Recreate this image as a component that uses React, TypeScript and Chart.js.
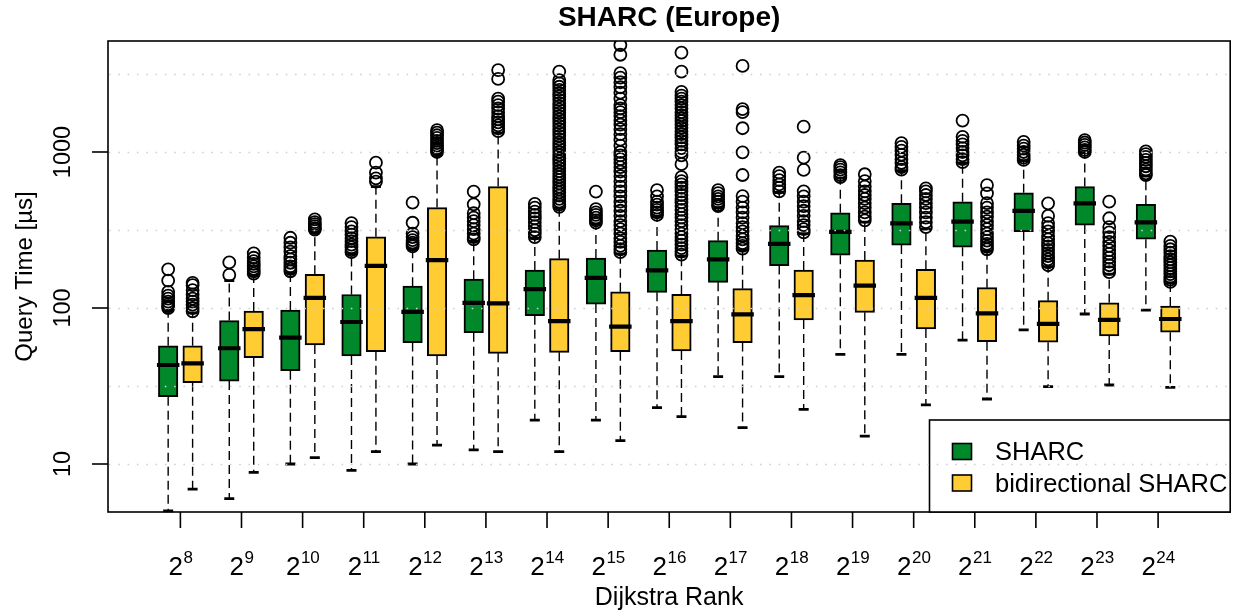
import React, { useEffect, useRef } from 'react';
import { Chart, registerables } from 'chart.js';

Chart.register(...registerables);

// ---------------- data ----------------
const exponents = ['8', '9', '10', '11', '12', '13', '14', '15', '16', '17', '18', '19', '20', '21', '22', '23', '24'];
const seriesNames = ['SHARC', 'bidirectional SHARC'];
const yTickValues = [10, 100, 1000];
const gridValues = [10, 31.62, 100, 316.2, 1000, 3162];

const sharcLow = [5.0, 6.0, 10.0, 9.1, 10.0, 12.3, 19.1, 19.1, 23, 36.3, 36.3, 50.5, 50.5, 62.3, 72.3, 91.5, 97];
const sharcQ1 = [27.0, 34, 39.6, 49.3, 60, 69.5, 89.3, 106, 126, 146, 187, 218, 253, 245, 308, 340, 276];
const sharcMed = [43.1, 55.2, 64.5, 81.3, 94.3, 108, 132, 156, 174, 205, 258, 308, 349, 358, 419, 469, 354];
const sharcQ3 = [57.3, 83, 97, 122, 138, 153, 175, 209, 235, 270, 337, 408, 469, 480, 548, 600, 462];
const sharcHigh = [95, 150, 168, 222, 238, 268, 280, 345, 385, 440, 550, 680, 760, 850, 880, 990, 700];
const sharcOutliers: number[][] = [
  [177, 150, 127, 120, 115, 110, 106, 103, 100],
  [196, 163],
  [282, 262, 245, 230, 215, 205, 195, 185, 178, 172],
  [350, 330, 310, 295, 280, 268, 255, 245, 235, 228],
  [473, 352, 300, 285, 272, 262, 255, 248],
  [557, 462, 405, 380, 360, 340, 320, 300, 285, 275],
  [465, 440, 415, 395, 375, 355, 335, 315, 300, 285],
  [557, 430, 410, 395, 380, 365, 352],
  [570, 520, 480, 460, 440, 425, 410, 395],
  [570, 545, 520, 500, 480, 460, 450],
  [737, 700, 660, 620, 590, 560],
  [825, 800, 770, 740, 710, 690],
  [1140, 1080, 1020, 960, 900, 850, 800, 770],
  [1590, 1250, 1180, 1120, 1060, 1000, 950, 900, 860],
  [1160, 1100, 1050, 1000, 960, 920, 890],
  [1190, 1150, 1110, 1070, 1030, 1000],
  [1010, 970, 930, 890, 850, 810, 770, 730, 712],
];

const biLow = [6.9, 8.85, 11.0, 12.0, 13.2, 12.0, 12.0, 14.1, 20.1, 17.1, 22.4, 15.1, 23.9, 26.1, 31.3, 32.1, 31];
const biQ1 = [33.2, 48, 57.9, 52.5, 49.3, 51.2, 52, 52.5, 53, 60, 83.8, 93.8, 73.3, 60.8, 60.3, 66.2, 69.9];
const biMed = [44.2, 73.3, 116, 186, 203, 107, 82.5, 75.9, 82.5, 91.1, 121, 139, 116, 92.5, 79, 83.8, 85];
const biQ3 = [57.3, 95.7, 164.5, 286, 440, 600, 207, 127, 122.4, 133, 175, 203, 177, 135, 111.4, 108, 103];
const biHigh = [93, 162, 305, 600, 950, 1320, 435, 222, 215, 235, 300, 355, 320, 232, 184, 165, 145];
const biOutliers: number[][] = [
  [145, 140, 130, 122, 115, 110, 105, 100, 95],
  [224, 210, 200, 192, 185, 178, 172, 166],
  [370, 355, 345, 335, 325, 318],
  [854, 737, 678, 645],
  [1380, 1330, 1280, 1230, 1180, 1140, 1100, 1060, 1030, 1000],
  [3350, 2940, 2200, 2100, 2000, 1900, 1800, 1700, 1620, 1550, 1480, 1420, 1360],
  [3270, 2890, 2750, 2620, 2500, 2380, 2270, 2160, 2060, 1960, 1870, 1780, 1700, 1620, 1540, 1470, 1400, 1330, 1270, 1210, 1150, 1100, 1050, 1000, 955, 910, 870, 830, 790, 755, 720, 690, 660, 630, 600, 575, 550, 525, 500, 480, 460, 445],
  [4850, 4200, 3200, 3000, 2800, 2600, 2400, 2200, 2000, 1900, 1800, 1700, 1600, 1500, 1400, 1300, 1200, 1100, 1000, 950, 900, 850, 800, 750, 700, 650, 600, 560, 520, 480, 450, 420, 390, 360, 340, 320, 300, 280, 265, 250, 238, 228],
  [4330, 3270, 2430, 2300, 2200, 2100, 2000, 1900, 1800, 1720, 1650, 1580, 1500, 1430, 1360, 1300, 1240, 1180, 1120, 1060, 1000, 950, 835, 690, 650, 620, 590, 560, 530, 500, 475, 450, 425, 400, 380, 360, 340, 320, 300, 285, 270, 255, 242, 230, 220],
  [3560, 1880, 1800, 1420, 995, 712, 522, 480, 440, 410, 380, 350, 330, 310, 290, 275, 260, 250, 240],
  [1453, 920, 767, 560, 520, 480, 450, 420, 390, 360, 340, 320, 305],
  [720, 650, 600, 560, 530, 500, 470, 440, 410, 385, 365],
  [585, 560, 530, 500, 470, 440, 410, 380, 355, 330],
  [614, 543, 470, 440, 410, 385, 360, 340, 320, 300, 285, 270, 258, 247, 238],
  [469, 389, 350, 330, 310, 290, 275, 260, 248, 236, 225, 215, 205, 196, 188],
  [480, 376, 330, 305, 285, 265, 250, 235, 222, 210, 198, 188, 178, 170],
  [266, 250, 238, 226, 215, 205, 196, 188, 180, 172, 165, 158, 152, 147],
];

// ---------------- styles ----------------
const GREEN = '#00882B';
const YELLOW = '#FFCC33';
const FONT = '"Liberation Sans", Arial, Helvetica, sans-serif';
const OFFSET = 0.2;
const BOX_W = 19.5;

const boxData = (q1: number[], q3: number[], off: number) =>
  exponents.map((_, i) => ({ x: i + off, y: [q1[i], q3[i]] }));

const outlierData = (list: number[][], off: number) => {
  const pts: { x: number; y: number }[] = [];
  list.forEach((arr, i) => arr.forEach((v) => pts.push({ x: i + off, y: v })));
  return pts;
};

const series = [
  { low: sharcLow, q1: sharcQ1, med: sharcMed, q3: sharcQ3, high: sharcHigh, off: -OFFSET },
  { low: biLow, q1: biQ1, med: biMed, q3: biQ3, high: biHigh, off: OFFSET },
];

const rPlot = {
  id: 'rPlot',
  beforeDatasetsDraw(chart: any) {
    const { ctx } = chart;
    const xs = chart.scales.x;
    const ys = chart.scales.y;
    ctx.save();
    ctx.strokeStyle = '#000';
    for (const s of series) {
      exponents.forEach((_, i) => {
        const cx = xs.getPixelForValue(i + s.off);
        ctx.setLineDash([9, 5]);
        ctx.lineWidth = 1.4;
        ctx.beginPath();
        ctx.moveTo(cx, ys.getPixelForValue(s.q1[i]));
        ctx.lineTo(cx, ys.getPixelForValue(s.low[i]));
        ctx.moveTo(cx, ys.getPixelForValue(s.q3[i]));
        ctx.lineTo(cx, ys.getPixelForValue(s.high[i]));
        ctx.stroke();
        ctx.setLineDash([]);
        ctx.lineWidth = 2.8;
        ctx.beginPath();
        for (const v of [s.low[i], s.high[i]]) {
          const py = ys.getPixelForValue(v);
          ctx.moveTo(cx - 5, py);
          ctx.lineTo(cx + 5, py);
        }
        ctx.stroke();
      });
    }
    ctx.restore();
  },
  afterDatasetsDraw(chart: any) {
    const { ctx, chartArea } = chart;
    const { left, right, top, bottom } = chartArea;
    const xs = chart.scales.x;
    const ys = chart.scales.y;
    ctx.save();
    // medians
    ctx.strokeStyle = '#000';
    ctx.lineWidth = 4.2;
    ctx.beginPath();
    for (const s of series) {
      exponents.forEach((_, i) => {
        const cx = xs.getPixelForValue(i + s.off);
        const py = ys.getPixelForValue(s.med[i]);
        ctx.moveTo(cx - BOX_W / 2 - 1.5, py);
        ctx.lineTo(cx + BOX_W / 2 + 1.5, py);
      });
    }
    ctx.stroke();

    // plot frame
    ctx.lineWidth = 1.6;
    ctx.strokeRect(left, top, right - left, bottom - top);

    // y axis ticks + labels
    ctx.fillStyle = '#000';
    ctx.font = `23.5px ${FONT}`;
    ctx.textAlign = 'center';
    ctx.textBaseline = 'alphabetic';
    for (const v of yTickValues) {
      const py = ys.getPixelForValue(v);
      ctx.beginPath();
      ctx.moveTo(left - 16, py);
      ctx.lineTo(left, py);
      ctx.stroke();
      ctx.save();
      ctx.translate(left - 38, py);
      ctx.rotate(-Math.PI / 2);
      ctx.fillText(String(v), 0, 0);
      ctx.restore();
    }

    // x axis ticks + labels
    exponents.forEach((e, i) => {
      const px = xs.getPixelForValue(i);
      ctx.beginPath();
      ctx.moveTo(px, bottom);
      ctx.lineTo(px, bottom + 16);
      ctx.stroke();
      ctx.font = `26px ${FONT}`;
      const w1 = ctx.measureText('2').width;
      ctx.font = `17px ${FONT}`;
      const w2 = ctx.measureText(e).width;
      const x0 = px - (w1 + w2) / 2;
      ctx.textAlign = 'left';
      ctx.font = `26px ${FONT}`;
      ctx.fillText('2', x0, 575);
      ctx.font = `17px ${FONT}`;
      ctx.fillText(e, x0 + w1 + 0.5, 563);
    });

    // axis titles
    ctx.textAlign = 'center';
    ctx.font = `25px ${FONT}`;
    ctx.fillText('Dijkstra Rank', (left + right) / 2, 605);
    ctx.save();
    ctx.translate(32, (top + bottom) / 2);
    ctx.rotate(-Math.PI / 2);
    ctx.font = `24px ${FONT}`;
    ctx.fillText('Query Time [µs]', 0, 0);
    ctx.restore();

    // main title
    ctx.font = `bold 28px ${FONT}`;
    ctx.fillText('SHARC (Europe)', (left + right) / 2, 26);

    // legend
    const lx = 929.5;
    const ly = 420;
    ctx.fillStyle = '#fff';
    ctx.fillRect(lx, ly, right - lx, bottom - ly);
    ctx.lineWidth = 1.6;
    ctx.strokeStyle = '#000';
    ctx.strokeRect(lx, ly, right - lx, bottom - ly);
    const sw = [GREEN, YELLOW];
    const rows = [443.5, 475];
    seriesNames.forEach((name, k) => {
      ctx.fillStyle = sw[k];
      ctx.fillRect(952.5, rows[k], 19, 16);
      ctx.strokeRect(952.5, rows[k], 19, 16);
      ctx.fillStyle = '#000';
      ctx.font = `25.5px ${FONT}`;
      ctx.textAlign = 'left';
      ctx.fillText(name, 995, rows[k] + 16.8);
    });

    // dotted grid (drawn on top, as in R's grid())
    ctx.strokeStyle = '#CFCFCF';
    ctx.lineWidth = 1.6;
    ctx.setLineDash([1.6, 7.7]);
    ctx.beginPath();
    for (const v of gridValues) {
      const py = Math.round(ys.getPixelForValue(v)) + 0.5;
      ctx.moveTo(left + 1, py);
      ctx.lineTo(right - 1, py);
    }
    ctx.stroke();
    ctx.restore();
  },
};

export default function App() {
  const ref = useRef<HTMLCanvasElement | null>(null);
  useEffect(() => {
    if (!ref.current) return;
    const outlierStyle = {
      pointRadius: 6,
      pointHoverRadius: 6,
      pointBorderWidth: 1.8,
      pointBackgroundColor: 'rgba(0,0,0,0)',
      pointBorderColor: '#000',
      showLine: false,
    };
    const chart = new Chart(ref.current, {
      type: 'bar',
      data: {
        datasets: [
          {
            type: 'bar',
            label: seriesNames[0],
            data: boxData(sharcQ1, sharcQ3, -OFFSET) as any,
            backgroundColor: GREEN,
            borderColor: '#000',
            borderWidth: 2,
            borderSkipped: false,
            barThickness: BOX_W,
            grouped: false,
          } as any,
          {
            type: 'bar',
            label: seriesNames[1],
            data: boxData(biQ1, biQ3, OFFSET) as any,
            backgroundColor: YELLOW,
            borderColor: '#000',
            borderWidth: 2,
            borderSkipped: false,
            barThickness: BOX_W,
            grouped: false,
          } as any,
          {
            type: 'scatter',
            label: 'outliers SHARC',
            data: outlierData(sharcOutliers, -OFFSET),
            ...outlierStyle,
          } as any,
          {
            type: 'scatter',
            label: 'outliers bidirectional SHARC',
            data: outlierData(biOutliers, OFFSET),
            ...outlierStyle,
          } as any,
        ],
      },
      options: {
        animation: false,
        responsive: false,
        events: [],
        layout: { padding: { left: 108, top: 41, right: 3, bottom: 103 } },
        scales: {
          x: { type: 'linear', min: -1.1846, max: 17.18, display: false, offset: false },
          y: { type: 'logarithmic', min: 4.924, max: 5146, display: false },
        },
        plugins: { legend: { display: false }, tooltip: { enabled: false }, title: { display: false } },
      },
      plugins: [rPlot],
    } as any);
    return () => chart.destroy();
  }, []);
  return (
    <div style={{ position: 'absolute', left: 0, top: 0, width: 1238, height: 615, background: '#fff' }}>
      <canvas ref={ref} width={1238} height={615} style={{ display: 'block' }} />
    </div>
  );
}
